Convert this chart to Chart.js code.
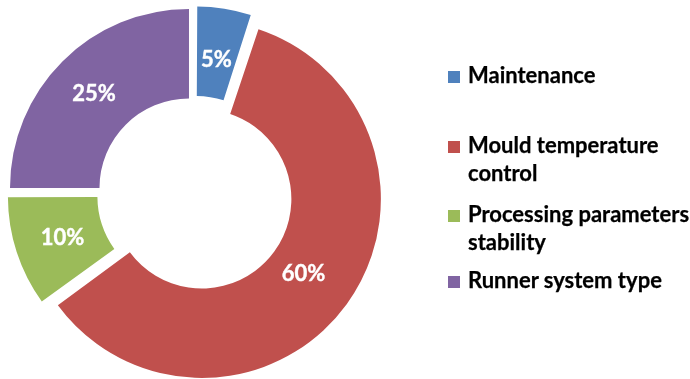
<!DOCTYPE html>
<html>
<head>
<meta charset="utf-8">
<script src="https://cdn.jsdelivr.net/npm/chart.js@4/dist/chart.umd.min.js"></script>
<style>
  html, body { margin: 0; padding: 0; background: #fff; }
  #wrap { position: relative; width: 690px; height: 379px; overflow: hidden; }
  #chart { position: absolute; left: 0; top: 0; }
  #legend { position: absolute; left: 0; top: 0; width: 690px; height: 379px; pointer-events: none; }
  .item { position: absolute; left: 448px; width: 250px; font: bold 22px Lato, sans-serif; line-height: 28px; color: #000; -webkit-text-stroke: 0.25px #000; }
  .swatch { position: absolute; left: 0; top: 10px; width: 12px; height: 12px; }
  .text { margin-left: 20px; width: 226px; }
</style>
</head>
<body>
<div id="wrap">
  <canvas id="chart" width="690" height="379"></canvas>
  <div id="legend"></div>
</div>
<script>
// Causes and their share of the total (%)
const categories = ['Maintenance', 'Mould temperature control', 'Processing parameters stability', 'Runner system type'];
const shares = [5, 60, 10, 25];
const sliceColors = ['#4F81BD', '#C0504D', '#9BBB59', '#8064A2'];
const legendTops = [61, 131, 200, 266];

// Exploded slices: Chart.js also grows the radius of an offset arc; undo that
// so every slice keeps the same ring thickness.
const evenRing = {
  id: 'evenRing',
  afterDatasetUpdate(chart, args) {
    const meta = chart.getDatasetMeta(args.index);
    meta.data.forEach(arc => {
      const shift = (arc.options.offset || 0) / 4;
      const fix = 1 - Math.sin(Math.min(Math.PI, arc.circumference));
      arc.outerRadius -= shift * fix;
      arc.innerRadius -= shift * fix;
    });
  }
};

// Percentage labels in the middle of each ring segment
const sliceLabels = {
  id: 'sliceLabels',
  afterDatasetsDraw(chart) {
    const ctx = chart.ctx;
    const meta = chart.getDatasetMeta(0);
    const data = chart.data.datasets[0].data;
    const size = 22;
    ctx.save();
    ctx.font = 'bold ' + size + 'px Lato, sans-serif';
    ctx.fillStyle = '#ffffff';
    ctx.strokeStyle = '#ffffff';
    ctx.lineWidth = 0.4;
    ctx.textAlign = 'center';
    ctx.textBaseline = 'alphabetic';
    meta.data.forEach((arc, i) => {
      const mid = (arc.startAngle + arc.endAngle) / 2;
      const shift = (arc.options.offset || 0) / 4;
      const r = shift + (arc.innerRadius + arc.outerRadius) / 2;
      const x = arc.x + Math.cos(mid) * r;
      const y = arc.y + Math.sin(mid) * r + size * 0.35;
      ctx.fillText(data[i] + '%', x, y);
      ctx.strokeText(data[i] + '%', x, y);
    });
    ctx.restore();
  }
};

new Chart(document.getElementById('chart'), {
  type: 'doughnut',
  data: {
    labels: categories,
    datasets: [{
      data: shares,
      backgroundColor: sliceColors,
      borderWidth: 0,
      offset: 34,
      clip: false
    }]
  },
  options: {
    responsive: false,
    animation: false,
    radius: 179,
    cutout: '50%',
    layout: { padding: { left: 10, right: 310, top: 9, bottom: 0 } },
    plugins: {
      legend: { display: false },
      tooltip: { enabled: false }
    }
  },
  plugins: [evenRing, sliceLabels]
});

// Legend to the right of the ring
const legend = document.getElementById('legend');
categories.forEach((name, i) => {
  const item = document.createElement('div');
  item.className = 'item';
  item.style.top = legendTops[i] + 'px';
  const sw = document.createElement('div');
  sw.className = 'swatch';
  sw.style.background = sliceColors[i];
  const tx = document.createElement('div');
  tx.className = 'text';
  tx.textContent = name;
  item.appendChild(sw);
  item.appendChild(tx);
  legend.appendChild(item);
});
</script>
</body>
</html>
